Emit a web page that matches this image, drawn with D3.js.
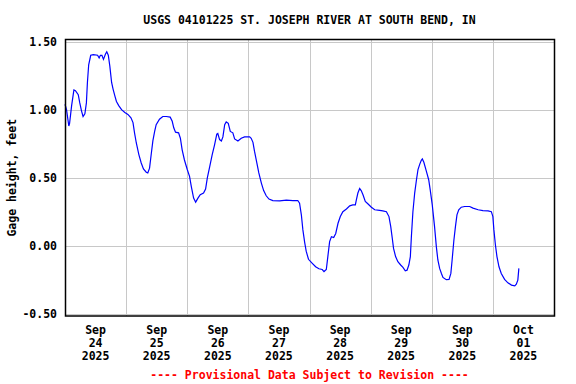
<!DOCTYPE html>
<html>
<head>
<meta charset="utf-8">
<script src="https://cdn.jsdelivr.net/npm/d3@7"></script>
<style>
  body { margin: 0; background: #fff; }
  text { font-family: "DejaVu Sans Mono", "Liberation Mono", monospace; font-weight: bold; font-size: 11.5px; }
</style>
</head>
<body>
<svg id="chart" width="576" height="384"></svg>
<script>
// hours since Sep 24 2025 00:00 and gage height (feet)
const hours = [0,0.6,1.5,1.8,2.6,3.5,4.1,5.2,5.8,6.5,7.1,7.8,8.4,8.8,9.3,10.1,11.1,12.8,13.4,13.9,14.5,15.1,15.9,16.4,17.0,17.6,18.3,18.9,19.6,20.2,21.1,22.2,23.5,24.7,25.9,26.7,27.3,28.0,29.0,29.9,30.8,31.9,32.5,33.2,33.9,34.5,35.2,35.8,37.1,38.4,39.8,41.3,42.1,42.7,43.4,44.6,45.3,46.0,46.9,48.0,48.9,49.6,50.5,51.3,52.2,53.1,54.4,55.2,55.9,56.8,57.8,58.7,59.6,60.0,60.7,61.4,62.0,62.7,63.3,64.1,64.9,65.9,66.6,67.9,69.2,70.5,72.5,73.1,73.8,74.4,75.3,76.1,77.1,78.0,79.0,80.1,81.6,84.3,86.9,89.5,91.4,92.1,92.8,93.4,94.1,94.7,95.6,97.1,98.4,99.7,101.0,101.7,102.6,103.2,103.9,104.6,105.5,106.3,107.2,108.1,109.1,110.5,111.8,113.0,114.0,114.4,115.0,115.7,116.3,117.0,117.9,118.9,120.3,121.6,123.5,124.8,126.2,127.2,127.9,128.5,129.0,129.8,130.7,131.8,132.7,133.6,134.3,135.0,135.6,136.0,136.6,137.3,138.0,138.6,139.3,139.9,140.3,140.9,141.9,142.8,143.4,144.2,145.1,145.8,146.4,147.1,147.8,148.4,149.7,150.8,151.5,152.0,152.7,153.3,153.9,154.6,155.6,156.9,158.9,160.2,162.2,164.1,166.1,167.4,168.0,168.4,169.0,169.6,170.4,171.3,172.6,173.9,175.3,176.6,177.2,177.8,178.2];
const gage = [1.04,1.00,0.88,0.90,1.03,1.145,1.14,1.11,1.05,0.99,0.95,0.97,1.05,1.20,1.33,1.40,1.405,1.40,1.38,1.40,1.40,1.37,1.41,1.425,1.40,1.32,1.20,1.15,1.10,1.06,1.03,1.00,0.98,0.965,0.94,0.905,0.83,0.755,0.67,0.61,0.565,0.54,0.535,0.57,0.68,0.77,0.84,0.89,0.93,0.95,0.95,0.945,0.915,0.867,0.835,0.83,0.79,0.705,0.63,0.56,0.51,0.435,0.35,0.32,0.35,0.375,0.387,0.416,0.50,0.58,0.67,0.74,0.82,0.825,0.78,0.77,0.80,0.89,0.91,0.90,0.84,0.83,0.785,0.77,0.79,0.80,0.80,0.79,0.76,0.695,0.61,0.535,0.46,0.405,0.367,0.343,0.332,0.33,0.335,0.332,0.332,0.313,0.227,0.116,0.025,-0.04,-0.10,-0.13,-0.155,-0.17,-0.175,-0.19,-0.175,-0.08,0.03,0.066,0.06,0.09,0.165,0.214,0.25,0.27,0.293,0.30,0.30,0.337,0.387,0.42,0.405,0.374,0.325,0.308,0.283,0.264,0.26,0.256,0.25,0.214,0.14,0.055,-0.02,-0.08,-0.118,-0.142,-0.16,-0.185,-0.18,-0.142,-0.08,0.066,0.25,0.387,0.485,0.56,0.60,0.628,0.638,0.613,0.547,0.485,0.41,0.30,0.14,-0.007,-0.105,-0.167,-0.204,-0.233,-0.25,-0.248,-0.204,-0.105,0.042,0.14,0.227,0.264,0.283,0.288,0.288,0.276,0.264,0.258,0.256,0.25,0.214,0.116,0.005,-0.08,-0.155,-0.204,-0.248,-0.273,-0.29,-0.295,-0.283,-0.253,-0.167];
const yTicks = [-0.5, 0, 0.5, 1.0, 1.5];
const title = "USGS 04101225 ST. JOSEPH RIVER AT SOUTH BEND, IN";
const footer = "---- Provisional Data Subject to Revision ----";

const start = new Date(2025, 8, 24);
const end = new Date(2025, 9, 2);
const data = hours.map((h, i) => ({ t: new Date(+start + h * 3600e3), v: gage[i] }));

const svg = d3.select("#chart");
const L = 65, R = 554, T = 39.5, B = 316;

const x = d3.scaleTime().domain([start, end]).range([L, R]);
const y = d3.scaleLinear().domain([-0.517, 1.516]).range([B, T]);

// grid
const days = d3.timeDay.range(start, end).slice(1);
svg.append("g").selectAll("line").data(days).enter().append("line")
  .attr("x1", d => Math.round(x(d)) + 0.5).attr("x2", d => Math.round(x(d)) + 0.5)
  .attr("y1", T).attr("y2", B)
  .attr("stroke", "#c8c8c8");
svg.append("g").selectAll("line").data(yTicks).enter().append("line")
  .attr("x1", L).attr("x2", R)
  .attr("y1", d => Math.round(y(d)) + 0.5).attr("y2", d => Math.round(y(d)) + 0.5)
  .attr("stroke", "#c8c8c8");

// line
svg.append("path").datum(data)
  .attr("fill", "none").attr("stroke", "#0000ff").attr("stroke-width", 1.2)
  .attr("d", d3.line().x(d => x(d.t)).y(d => y(d.v)));

// frame
svg.append("rect").attr("x", L + 0.5).attr("y", T).attr("width", R - L).attr("height", B - T)
  .attr("fill", "none").attr("stroke", "#000").attr("stroke-width", 1.5);

// y labels
svg.append("g").selectAll("text").data(yTicks).enter().append("text")
  .attr("x", 57).attr("y", d => y(d) + 4)
  .attr("text-anchor", "end")
  .text(d => d3.format(".2f")(d).replace("\u2212", "-"));

svg.append("text")
  .attr("transform", "translate(16," + (T + B) / 2 + ") rotate(-90)")
  .attr("text-anchor", "middle")
  .text("Gage height, feet");

// x labels at noon
const noons = d3.timeDay.range(start, end).map(d => new Date(+d + 12 * 3600e3));
const lab = svg.append("g").selectAll("text").data(noons).enter().append("text")
  .attr("text-anchor", "middle");
lab.append("tspan").attr("x", d => x(d)).attr("y", 334).text(d3.timeFormat("%b"));
lab.append("tspan").attr("x", d => x(d)).attr("y", 347).text(d3.timeFormat("%d"));
lab.append("tspan").attr("x", d => x(d)).attr("y", 360).text(d3.timeFormat("%Y"));

svg.append("text").attr("x", (L + R) / 2).attr("y", 24)
  .attr("text-anchor", "middle").text(title);
svg.append("text").attr("x", (L + R) / 2).attr("y", 379)
  .attr("text-anchor", "middle").attr("fill", "#ff0000").text(footer);
</script>
</body>
</html>
